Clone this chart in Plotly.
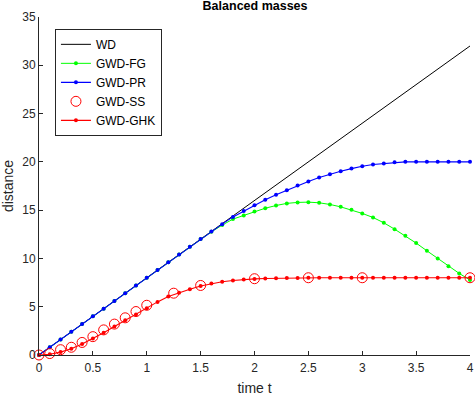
import plotly.graph_objects as go

# time grid used by the line methods (step 0.1)
t = [round(0.1 * i, 1) for i in range(41)]

wd_t = [0, 4]
wd_d = [0, 32]

fg_d = [0.0, 0.8, 1.6, 2.4, 3.2, 4.0, 4.8, 5.6, 6.4, 7.2,
        8.0, 8.8, 9.6, 10.4, 11.2, 12.0, 12.75, 13.45, 14.07, 14.45,
        14.86, 15.2, 15.48, 15.7, 15.8, 15.83, 15.76, 15.59, 15.34, 15.03,
        14.66, 14.24, 13.69, 13.03, 12.34, 11.59, 10.79, 10.0, 9.2, 8.45,
        7.76]

pr_d = [0.0, 0.8, 1.6, 2.4, 3.2, 4.0, 4.8, 5.6, 6.4, 7.2,
        8.0, 8.8, 9.6, 10.4, 11.2, 12.0, 12.78, 13.55, 14.3, 14.9,
        15.5, 16.07, 16.6, 17.07, 17.55, 17.97, 18.38, 18.72, 19.03, 19.3,
        19.55, 19.72, 19.83, 19.95, 20.0, 20.0, 20.0, 20.0, 20.0, 20.0,
        20.0]

ss_t = [0, 0.1, 0.2, 0.3, 0.4, 0.5, 0.6, 0.7, 0.8, 0.9, 1.0, 1.25, 1.5, 2.0, 2.5, 3.0, 4.0]
ss_d = [0, 0.15, 0.55, 0.8, 1.3, 1.9, 2.6, 3.2, 3.85, 4.5, 5.15, 6.4, 7.2, 7.9, 8.0, 8.0, 8.0]

ghk_d = [0.0, 0.08, 0.3, 0.65, 1.13, 1.7, 2.3, 2.95, 3.6, 4.2,
         4.85, 5.5, 6.05, 6.45, 6.8, 7.15, 7.4, 7.58, 7.72, 7.82,
         7.88, 7.92, 7.95, 7.97, 7.98, 7.99, 8.0, 8.0, 8.0, 8.0,
         8.0, 8.0, 8.0, 8.0, 8.0, 8.0, 8.0, 8.0, 8.0, 8.0,
         8.0]

fig = go.Figure()
fig.add_trace(go.Scatter(x=wd_t, y=wd_d, mode="lines", name="WD",
                         line=dict(color="black", width=1)))
fig.add_trace(go.Scatter(x=t, y=fg_d, mode="lines+markers", name="GWD-FG",
                         line=dict(color="#00ff00", width=1),
                         marker=dict(color="#00ff00", size=4)))
fig.add_trace(go.Scatter(x=t, y=pr_d, mode="lines+markers", name="GWD-PR",
                         line=dict(color="#0000ff", width=1.1),
                         marker=dict(color="#0000ff", size=4)))
fig.add_trace(go.Scatter(x=ss_t, y=ss_d, mode="markers", name="GWD-SS",
                         marker=dict(symbol="circle-open", color="#ff0000", size=10,
                                     line=dict(width=1))))
fig.add_trace(go.Scatter(x=t, y=ghk_d, mode="lines+markers", name="GWD-GHK",
                         line=dict(color="#ff0000", width=1.1),
                         marker=dict(color="#ff0000", size=4)))
fig.update_traces(cliponaxis=False)

axis_common = dict(showline=True, linecolor="#262626", linewidth=1,
                   ticks="inside", ticklen=4, tickcolor="#262626",
                   showgrid=False, zeroline=False, automargin=False,
                   tickfont=dict(size=12, color="#262626"))

fig.update_layout(
    width=475, height=398,
    margin=dict(l=39, r=5, t=17, b=43),
    paper_bgcolor="white", plot_bgcolor="white",
    font=dict(family="Liberation Sans, Arial, sans-serif", size=12, color="#262626"),
    title=dict(text="<b>Balanced masses</b>", x=0.537, xanchor="center",
               y=0.998, yanchor="top", pad=dict(t=0),
               font=dict(size=12.5, color="black")),
    xaxis=dict(range=[0, 4], tickvals=[0, 0.5, 1, 1.5, 2, 2.5, 3, 3.5, 4],
               ticklabelstandoff=2,
               title=dict(text="time t", standoff=8), **axis_common),
    yaxis=dict(range=[0, 35], tickvals=[0, 5, 10, 15, 20, 25, 30, 35],
               title=dict(text="distance", standoff=6), **axis_common),
    legend=dict(x=0.037, y=0.965, xanchor="left", yanchor="top",
                bgcolor="white", bordercolor="#262626", borderwidth=1,
                font=dict(size=12, color="black"),
                tracegroupgap=0, itemwidth=30),
    showlegend=True,
)

# the page body has a default 8px margin; drop it so the figure sits at the window corner
fig.write_html("out.html", config={"displayModeBar": False},
               post_script="document.body.style.margin='0';")
